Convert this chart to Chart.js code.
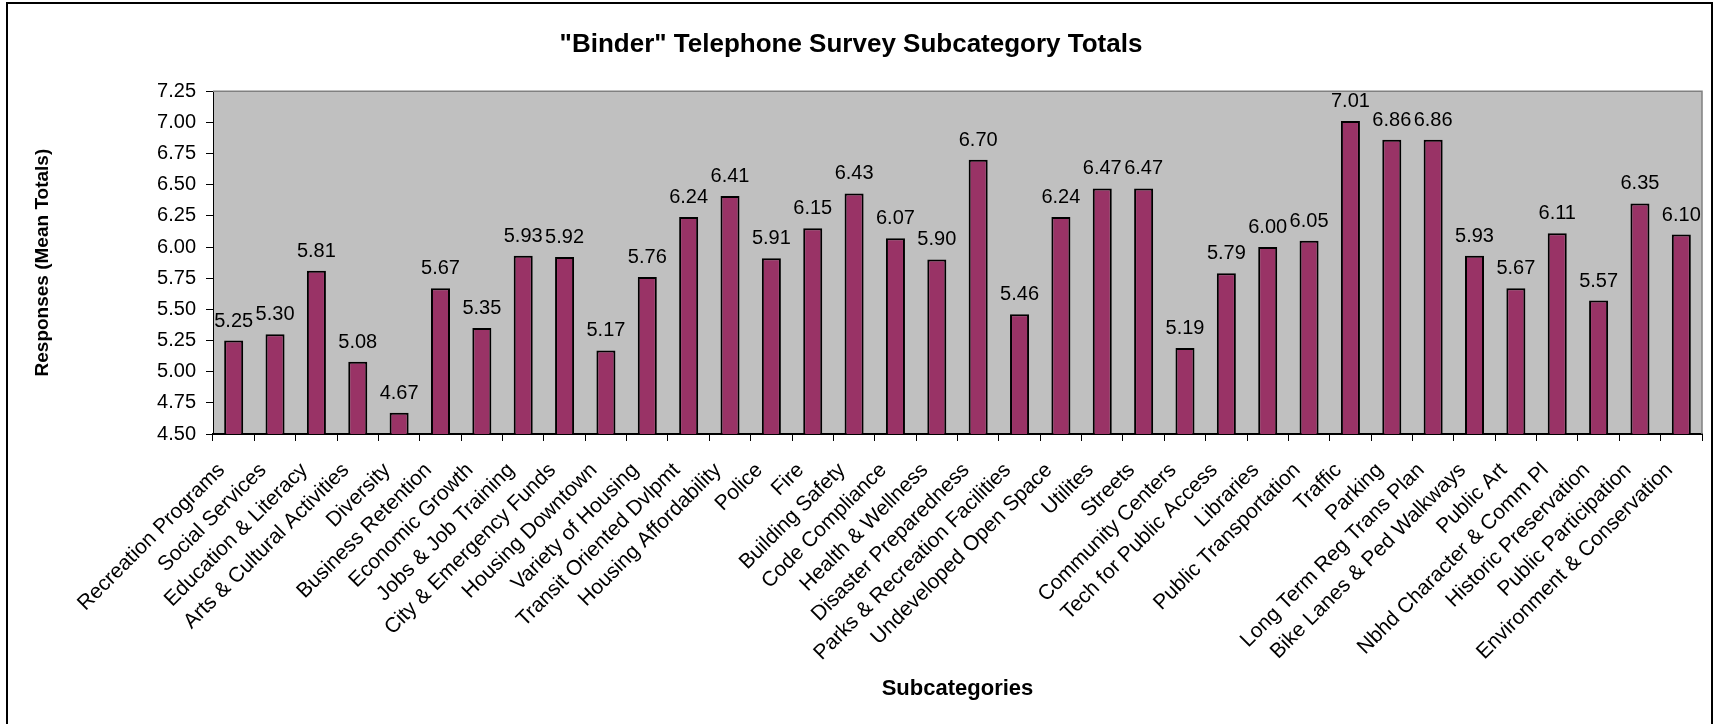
<!DOCTYPE html>
<html>
<head>
<meta charset="utf-8">
<script src="https://cdn.jsdelivr.net/npm/chart.js@4/dist/chart.umd.min.js"></script>
<style>
  html, body { margin: 0; padding: 0; background: #fff; }
  canvas { display: block; }
</style>
</head>
<body>
<canvas id="surveyChart" width="1719" height="724"></canvas>
<script>
const subcategories = [
  'Recreation Programs', 'Social Services', 'Education & Literacy', 'Arts & Cultural Activities',
  'Diversity', 'Business Retention', 'Economic Growth', 'Jobs & Job Training',
  'City & Emergency Funds', 'Housing Downtown', 'Variety of Housing', 'Transit Oriented Dvlpmt',
  'Housing Affordability', 'Police', 'Fire', 'Building Safety', 'Code Compliance',
  'Health & Wellness', 'Disaster Preparedness', 'Parks & Recreation Facilities',
  'Undeveloped Open Space', 'Utilites', 'Streets', 'Community Centers', 'Tech for Public Access',
  'Libraries', 'Public Transportation', 'Traffic', 'Parking', 'Long Term Reg Trans Plan',
  'Bike Lanes & Ped Walkways', 'Public Art', 'Nbhd Character & Comm Pl', 'Historic Preservation',
  'Public Participation', 'Environment & Conservation',
];
const meanTotals = [
  5.25, 5.30, 5.81, 5.08, 4.67, 5.67, 5.35, 5.93, 5.92, 5.17, 5.76, 6.24,
  6.41, 5.91, 6.15, 6.43, 6.07, 5.90, 6.70, 5.46, 6.24, 6.47, 6.47, 5.19,
  5.79, 6.00, 6.05, 7.01, 6.86, 6.86, 5.93, 5.67, 6.11, 5.57, 6.35, 6.10,
];
const yMin = 4.5;
const yMax = 7.25;
const yStep = 0.25;

const FONT = '"Liberation Sans", Arial, sans-serif';

// grey plot area, grey frame on top/right, black outer border
const frame = {
  id: 'frame',
  beforeDraw(chart) {
    const { ctx, chartArea: a } = chart;
    ctx.save();
    ctx.fillStyle = '#fff';
    ctx.fillRect(0, 0, chart.width, chart.height);
    ctx.fillStyle = '#c0c0c0';
    ctx.fillRect(a.left, a.top, a.right - a.left, a.bottom - a.top);
    ctx.restore();
  },
  afterDraw(chart) {
    const { ctx, chartArea: a } = chart;
    ctx.save();
    ctx.strokeStyle = '#808080';
    ctx.lineWidth = 1.5;
    ctx.beginPath();
    ctx.moveTo(a.left, a.top);
    ctx.lineTo(a.right, a.top);
    ctx.lineTo(a.right, a.bottom);
    ctx.stroke();
    ctx.strokeStyle = '#000';
    ctx.lineWidth = 2;
    ctx.strokeRect(7, 3, chart.width - 14, chart.height + 10);
    ctx.restore();
  },
};

// value labels above each bar
const barLabels = {
  id: 'barLabels',
  afterDatasetsDraw(chart) {
    const { ctx } = chart;
    const meta = chart.getDatasetMeta(0);
    ctx.save();
    ctx.font = '20px ' + FONT;
    ctx.fillStyle = '#000';
    ctx.textAlign = 'center';
    ctx.textBaseline = 'alphabetic';
    meta.data.forEach((bar, i) => {
      ctx.fillText(meanTotals[i].toFixed(2), bar.x, bar.y - 14);
    });
    ctx.restore();
  },
};

new Chart(document.getElementById('surveyChart'), {
  type: 'bar',
  data: {
    labels: subcategories,
    datasets: [{
      data: meanTotals,
      backgroundColor: '#993366',
      borderColor: '#000',
      borderWidth: 2,
      borderSkipped: 'bottom',
      categoryPercentage: 1,
      barPercentage: 0.46,
    }],
  },
  options: {
    responsive: false,
    animation: false,
    layout: { padding: { left: 0, right: 17, top: 0, bottom: 0 } },
    plugins: {
      legend: { display: false },
      tooltip: { enabled: false },
      title: {
        display: true,
        text: '"Binder" Telephone Survey Subcategory Totals',
        color: '#000',
        font: { family: FONT, size: 26, weight: 'bold', lineHeight: 1.2 },
        padding: { top: 29, bottom: 31 },
      },
    },
    scales: {
      x: {
        offset: true,
        grid: { offset: true, drawOnChartArea: false, color: '#000', tickLength: 7, lineWidth: 1 },
        border: { color: '#000', width: 2 },
        ticks: {
          autoSkip: false,
          maxRotation: 45,
          minRotation: 45,
          padding: 17,
          labelOffset: -12,
          color: '#000',
          font: { family: FONT, size: 21 },
        },
        title: {
          display: true,
          text: 'Subcategories',
          color: '#000',
          font: { family: FONT, size: 22, weight: 'bold', lineHeight: 1.2 },
          padding: { top: 0, bottom: 22 },
        },
        afterFit(scale) { scale.height = 724 - 434; },
      },
      y: {
        min: yMin,
        max: yMax,
        grid: { drawOnChartArea: false, color: '#000', tickLength: 7 },
        border: { color: '#000', width: 1 },
        ticks: {
          stepSize: yStep,
          padding: 10,
          color: '#000',
          font: { family: FONT, size: 20 },
          callback: v => v.toFixed(2),
        },
        title: {
          display: true,
          text: 'Responses (Mean Totals)',
          color: '#000',
          font: { family: FONT, size: 19, weight: 'bold', lineHeight: 1.2 },
          padding: { top: 31, bottom: 0 },
        },
        afterFit(scale) { scale.width = 213; },
      },
    },
  },
  plugins: [frame, barLabels],
});
</script>
</body>
</html>
